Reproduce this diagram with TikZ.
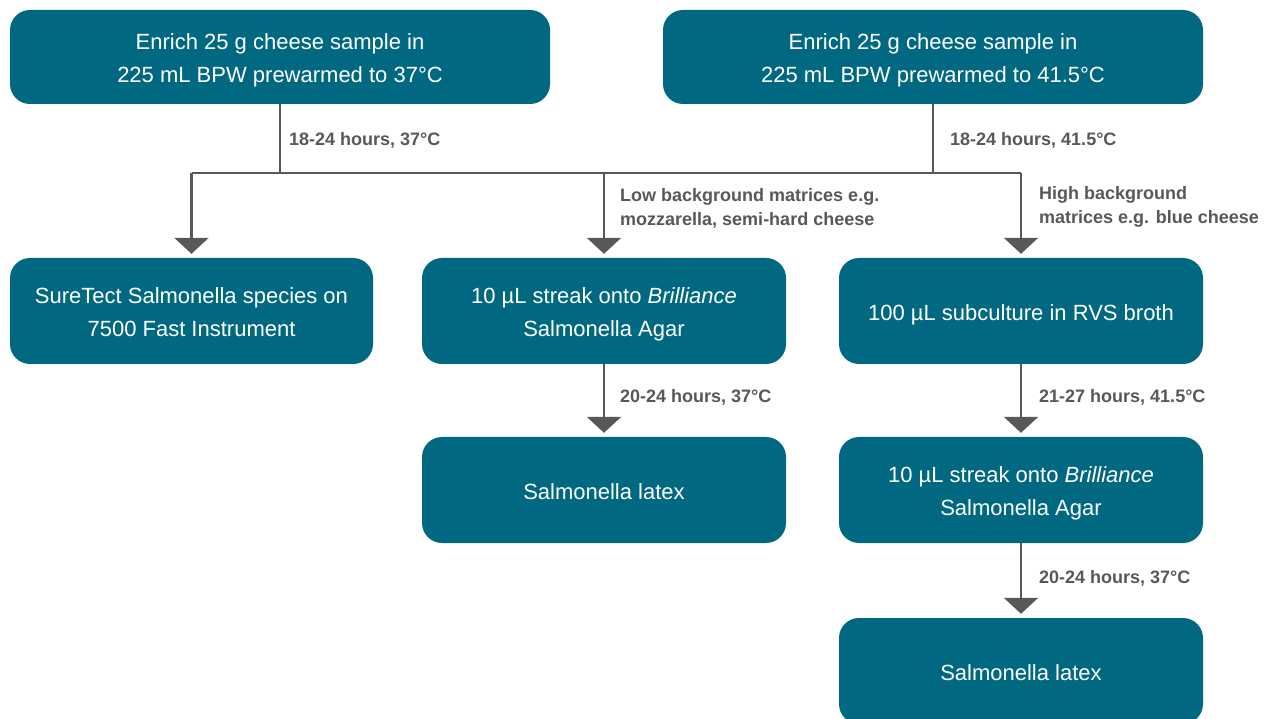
\documentclass[tikz,border=0pt]{standalone}
\usepackage{fontspec}
\setmainfont{Liberation Sans}
\usetikzlibrary{arrows.meta}
\definecolor{boxteal}{HTML}{006880}
\definecolor{flowgrey}{HTML}{58585A}
% box text, set a little below the middle of the box
\newcommand{\boxtxt}[1]{\raisebox{-2.5pt}[\height][\depth]{\begin{tabular}{@{}c@{}}#1\end{tabular}}}
\begin{document}
\begin{tikzpicture}[x=1pt,y=-1pt,
    stepbox/.style={rectangle, rounded corners=20pt, fill=boxteal, text=white,
        inner sep=0pt, font=\fontsize{22}{33}\selectfont},
    wide/.style={minimum width=540pt, minimum height=94pt},
    narrow/.style={minimum width=364pt, minimum height=106pt},
    flow/.style={draw=flowgrey, line width=2.6pt},
    arr/.style={flow, -{Triangle[width=34pt,length=16pt]}, shorten >=4pt},
    note/.style={anchor=west, text=flowgrey, align=left, inner sep=0pt,
        font=\fontsize{18}{24}\selectfont\bfseries}]
    \useasboundingbox (0,0) rectangle (1270,719);
    % top row
    \node[stepbox,wide] (enrA) at (280,57) {\boxtxt{Enrich 25 g cheese sample in\\225 mL BPW prewarmed to 37°C}};
    \node[stepbox,wide] (enrB) at (933,57) {\boxtxt{Enrich 25 g cheese sample in\\225 mL BPW prewarmed to 41.5°C}};
    % second row
    \node[stepbox,narrow,minimum width=363pt] (sure) at (191.5,311) {\boxtxt{SureTect Salmonella species on\\7500 Fast Instrument}};
    \node[stepbox,narrow] (streakL) at (604,311) {\boxtxt{10 µL streak onto \textit{Brilliance}\\Salmonella Agar}};
    \node[stepbox,narrow] (rvs) at (1021,311) {\boxtxt{100 µL subculture in RVS broth}};
    % third and fourth rows
    \node[stepbox,narrow] (latexL) at (604,490) {\boxtxt{Salmonella latex}};
    \node[stepbox,narrow] (streakR) at (1021,490) {\boxtxt{10 µL streak onto \textit{Brilliance}\\Salmonella Agar}};
    \node[stepbox,narrow] (latexR) at (1021,671) {\boxtxt{Salmonella latex}};
    % connectors
    \coordinate (bus) at (0,173);
    \draw[flow] (enrA.south) -- (enrA.south |- bus);
    \draw[flow] (enrB.south) -- (enrB.south |- bus);
    \draw[flow] (sure.north |- bus) -- (rvs.north |- bus);
    \draw[arr] (sure.north |- bus) -- (sure.north);
    \draw[arr] (streakL.north |- bus) -- (streakL.north);
    \draw[arr] (rvs.north |- bus) -- (rvs.north);
    \draw[arr] (streakL.south) -- (latexL.north);
    \draw[arr] (rvs.south) -- (streakR.north);
    \draw[arr] (streakR.south) -- (latexR.north);
    % labels
    \node[note] (tA) at (289,140) {18-24 hours, 37°C};
    \node[note] (tB) at (950,140) {18-24 hours, 41.5°C};
    \node[note] (low) at (620,208) {Low background matrices e.g.\\mozzarella, semi-hard cheese};
    \node[note] (high) at (1039,207) {High background\\matrices e.g. blue cheese};
    \node[note] (tL) at (620,397) {20-24 hours, 37°C};
    \node[note] (tR) at (1039,397) {21-27 hours, 41.5°C};
    \node[note] (tR2) at (1039,578) {20-24 hours, 37°C};
\end{tikzpicture}
\end{document}
